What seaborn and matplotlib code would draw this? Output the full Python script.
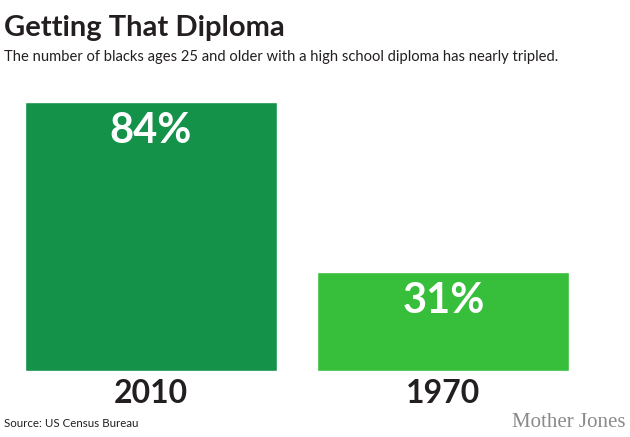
import matplotlib
matplotlib.use("Agg")
import matplotlib.pyplot as plt
import seaborn as sns

# data
years = ["2010", "1970"]
shares = [84, 31]
bar_colors = ["#15924a", "#37bf3b"]
title = "Getting That Diploma"
subtitle = "The number of blacks ages 25 and older with a high school diploma has nearly tripled."
source = "Source: US Census Bureau"

sns.set_style("white")
plt.rcParams["font.family"] = ["Lato", "DejaVu Sans"]
ink = "#231f20"

W, H = 630, 437
fig = plt.figure(figsize=(W / 100, H / 100), dpi=100)

# axes placed in pixel units so bars land where the reference has them
left, right, top, bottom = 24.7, 569.3, 102.0, 370.7
ax = fig.add_axes([left / W, (H - bottom) / H, (right - left) / W, (bottom - top) / H])

sns.barplot(x=years, y=shares, hue=years, palette=bar_colors, width=0.86,
            saturation=1, legend=False, ax=ax)
ax.set_xlim(-0.43, 1.43)
ax.set_ylim(0, max(shares))
sns.despine(ax=ax, left=True, bottom=True)
ax.set_yticks([])
ax.set_ylabel("")
ax.set_xlabel("")
ax.tick_params(axis="x", length=0, pad=6)
for lab in ax.get_xticklabels():
    lab.set_fontsize(23)
    lab.set_fontweight("bold")
    lab.set_color(ink)

for i, v in enumerate(shares):
    ax.annotate(f"{v}%", xy=(i, v), xytext=(0, -41 * 0.72), textcoords="offset points",
                ha="center", va="baseline", fontsize=30, fontweight="bold", color="white")

fig.text(4 / W, 1 - 36 / H, title, fontsize=21, fontweight="bold", color=ink, va="baseline")
fig.text(4 / W, 1 - 61 / H, subtitle, fontsize=10.6, color=ink, va="baseline")
fig.text(4 / W, 1 - 427 / H, source, fontsize=8.3, color=ink, va="baseline")
fig.text(626 / W, 1 - 427 / H, "Mother Jones", fontsize=15, color="#8a8a8a",
         family="Liberation Serif", ha="right", va="baseline")

fig.savefig("out.png", dpi=100)
